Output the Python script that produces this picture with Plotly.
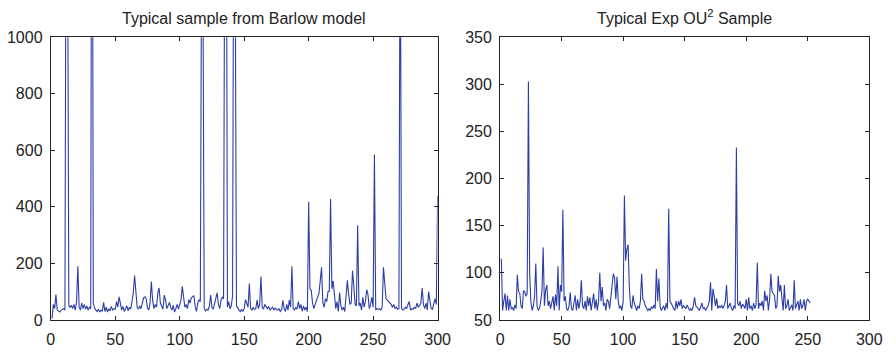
import plotly.graph_objects as go
from plotly.subplots import make_subplots

# Barlow model sample, index 1..300 (large excursions exceed the 0-1000 view)
barlow_values = [
    5, 55, 40, 90, 35, 30, 28, 35, 38, 40,
    35, 1800, 1500, 50, 45, 52, 40, 55, 35, 65,
    190, 45, 35, 60, 40, 55, 38, 50, 35, 45,
    40, 2500, 60, 42, 35, 30, 38, 28, 35, 30,
    62, 30, 45, 28, 40, 32, 48, 35, 40, 38,
    65, 45, 82, 60, 35, 48, 30, 40, 50, 32,
    45, 38, 60, 95, 157, 80, 45, 38, 50, 40,
    55, 78, 82, 75, 42, 35, 60, 136, 70, 40,
    55, 45, 95, 113, 60, 45, 38, 88, 70, 40,
    55, 62, 45, 35, 52, 28, 40, 55, 38, 60,
    70, 119, 75, 45, 55, 40, 72, 60, 78, 82,
    86, 48, 30, 60, 72, 65, 1400, 1200, 40, 32,
    38, 35, 50, 88, 45, 38, 60, 70, 96, 55,
    40, 70, 80, 75, 1600, 2000, 45, 65, 40, 50,
    85, 1800, 1300, 50, 40, 35, 30, 38, 30, 40,
    72, 55, 45, 129, 40, 35, 45, 38, 40, 70,
    40, 55, 154, 45, 38, 55, 45, 40, 48, 35,
    40, 45, 35, 42, 38, 35, 40, 30, 35, 69,
    40, 30, 55, 35, 70, 45, 190, 40, 35, 45,
    38, 65, 40, 55, 30, 50, 35, 45, 30, 418,
    110, 105, 60, 40, 55, 70, 80, 95, 140, 186,
    60, 45, 75, 65, 100, 102, 428, 110, 138, 80,
    40, 65, 30, 97, 50, 35, 45, 30, 100, 140,
    90, 55, 60, 174, 120, 55, 50, 335, 50, 60,
    35, 80, 45, 65, 107, 90, 40, 55, 80, 45,
    585, 35, 40, 38, 40, 35, 45, 186, 130, 75,
    70, 65, 60, 55, 45, 55, 40, 45, 38, 40,
    1600, 40, 35, 38, 45, 40, 55, 65, 35, 40,
    38, 45, 40, 60, 45, 50, 60, 113, 55, 40,
    60, 35, 100, 70, 40, 38, 60, 75, 55, 440,
]
barlow_index = list(range(1, len(barlow_values) + 1))

# Exponential OU^2 sample, index 1..252
ou_values = [
    115, 60, 70, 78, 60, 76, 60, 72, 62, 63,
    60, 66, 62, 98, 80, 78, 65, 62, 81, 80,
    75, 78, 303, 100, 70, 60, 65, 75, 110, 65,
    60, 62, 70, 80, 127, 65, 82, 87, 65, 70,
    62, 68, 75, 60, 77, 65, 107, 60, 87, 80,
    167, 70, 75, 62, 60, 65, 79, 62, 60, 68,
    76, 60, 72, 62, 70, 92, 65, 62, 70, 60,
    75, 65, 74, 60, 70, 78, 62, 72, 60, 70,
    100, 70, 85, 65, 68, 60, 72, 70, 62, 75,
    92, 99, 95, 72, 96, 70, 62, 65, 60, 70,
    182, 113, 125, 130, 85, 65, 62, 76, 68, 63,
    60, 65, 62, 70, 99, 72, 70, 65, 62, 60,
    62, 60, 64, 62, 66, 62, 104, 70, 94, 65,
    60, 62, 65, 60, 68, 62, 168, 70, 68, 65,
    62, 60, 70, 62, 70, 65, 72, 62, 65, 64,
    62, 66, 62, 60, 62, 60, 65, 74, 65, 64,
    62, 60, 65, 68, 62, 63, 60, 62, 65, 70,
    90, 60, 83, 75, 65, 73, 62, 65, 63, 66,
    62, 65, 70, 87, 62, 65, 68, 62, 60, 65,
    62, 233, 68, 65, 70, 62, 67, 65, 62, 72,
    60, 74, 62, 65, 60, 68, 62, 66, 111, 62,
    68, 65, 70, 60, 81, 70, 76, 60, 72, 99,
    80, 78, 76, 62, 65, 97, 80, 87, 72, 60,
    87, 62, 65, 72, 60, 64, 66, 60, 92, 62,
    66, 70, 60, 72, 62, 65, 72, 60, 70, 72,
    70, 68,
]
ou_index = list(range(1, len(ou_values) + 1))

x_ticks = [0, 50, 100, 150, 200, 250, 300]
barlow_y_ticks = [0, 200, 400, 600, 800, 1000]
ou_y_ticks = [50, 100, 150, 200, 250, 300, 350]

titles = ["Typical sample from Barlow model", "Typical Exp OU<sup>2</sup> Sample"]

line_color = "#2c3ea6"
font = dict(family="Liberation Sans, Arial, sans-serif", size=16, color="#222222")

fig = make_subplots(rows=1, cols=2)
fig.add_trace(go.Scatter(x=barlow_index, y=barlow_values, mode="lines",
                         line=dict(color=line_color, width=1.1)), row=1, col=1)
fig.add_trace(go.Scatter(x=ou_index, y=ou_values, mode="lines",
                         line=dict(color=line_color, width=1.1)), row=1, col=2)

axis_common = dict(showline=True, linecolor="#222222", linewidth=1, mirror="ticks",
                   ticks="inside", ticklen=4, tickcolor="#222222", showgrid=False,
                   zeroline=False, tickfont=font)

x_dom_left = [0.0532, 0.4933]
x_dom_right = [0.5644, 0.9844]
y_dom = [0.0743, 0.9133]
fig.update_layout(
    xaxis=dict(domain=x_dom_left, range=[0, 300], tickvals=x_ticks,
               ticklabelstandoff=5, **axis_common),
    yaxis=dict(domain=y_dom, range=[0, 1000], tickvals=barlow_y_ticks,
               ticklabelstandoff=4, **axis_common),
    xaxis2=dict(domain=x_dom_right, range=[0, 300], tickvals=x_ticks,
                ticklabelstandoff=5, **axis_common),
    yaxis2=dict(domain=y_dom, range=[50, 350], tickvals=ou_y_ticks,
                ticklabelstandoff=4, **axis_common),
    width=896, height=354,
    margin=dict(l=0, r=0, t=0, b=0),
    plot_bgcolor="white", paper_bgcolor="white",
    showlegend=False, font=font,
)

for title, dom in zip(titles, [x_dom_left, x_dom_right]):
    fig.add_annotation(text=title, x=(dom[0] + dom[1]) / 2, y=y_dom[1],
                       xref="paper", yref="paper", xanchor="center", yanchor="bottom",
                       yshift=8, showarrow=False,
                       font=dict(family=font["family"], size=16, color="#222222"))

fig.write_html("out.html")
